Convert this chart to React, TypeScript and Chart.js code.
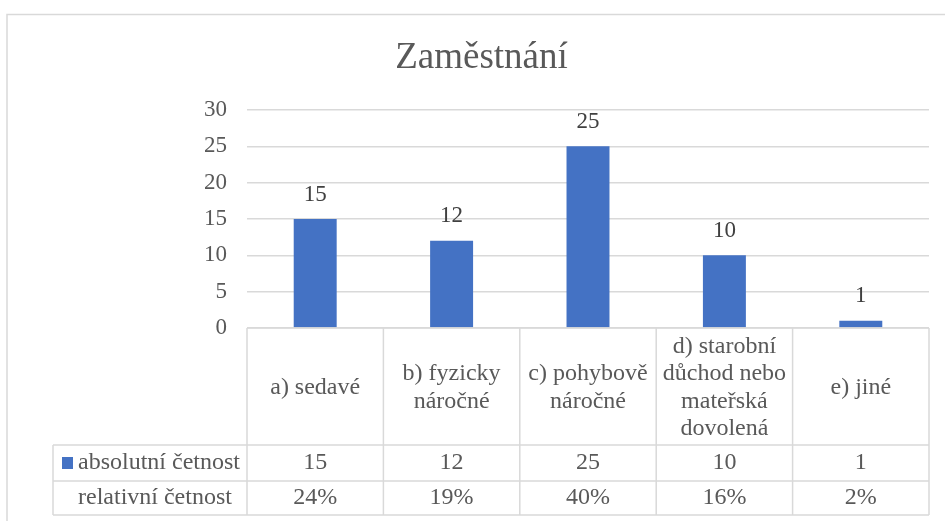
import React, { useEffect, useRef } from "react";
import { Chart, registerables } from "chart.js";

Chart.register(...registerables);

const TITLE = "Zaměstnání";
const categories: string[][] = [
  ["a) sedavé"],
  ["b) fyzicky", "náročné"],
  ["c) pohybově", "náročné"],
  ["d) starobní", "důchod nebo", "mateřská", "dovolená"],
  ["e) jiné"],
];
const absolutniCetnost = [15, 12, 25, 10, 1];
const relativniCetnost = ["24%", "19%", "40%", "16%", "2%"];
const seriesNames = ["absolutní četnost", "relativní četnost"];
const yMin = 0;
const yMax = 30;
const yStep = 5;

const FONT = "'Liberation Serif', 'Times New Roman', serif";
const TEXT = "#595959";
const LABEL = "#404040";
const GRID = "#d9d9d9";
const BAR = "#4472c4";

const excelPlugin = {
  id: "excelTable",
  beforeDraw(chart: any) {
    const ctx = chart.ctx;
    ctx.save();
    ctx.fillStyle = "#ffffff";
    ctx.fillRect(0, 0, chart.width, chart.height);
    ctx.strokeStyle = GRID;
    ctx.lineWidth = 1.5;
    ctx.strokeRect(7, 14.5, 2000, 2000);
    ctx.fillStyle = TEXT;
    ctx.font = `37px ${FONT}`;
    ctx.textAlign = "center";
    ctx.textBaseline = "alphabetic";
    ctx.fillText(TITLE, 481.5, 68);
    ctx.restore();
  },
  afterDatasetsDraw(chart: any) {
    const ctx = chart.ctx;
    const meta = chart.getDatasetMeta(0);
    ctx.save();
    ctx.fillStyle = LABEL;
    ctx.font = `23px ${FONT}`;
    ctx.textAlign = "center";
    ctx.textBaseline = "bottom";
    meta.data.forEach((bar: any, i: number) => {
      ctx.fillText(String(absolutniCetnost[i]), bar.x, bar.y - 13);
    });
    ctx.restore();
  },
  afterDraw(chart: any) {
    const ctx = chart.ctx;
    const { left, right, bottom } = chart.chartArea;
    const xs = chart.scales.x;
    const n = categories.length;
    const step = xs.getPixelForValue(1) - xs.getPixelForValue(0);
    const edges: number[] = [];
    for (let i = 0; i <= n; i++) edges.push(xs.getPixelForValue(i) - step / 2);
    const headerBottom = bottom + 117;
    const row2Bottom = headerBottom + 36;
    const row3Bottom = row2Bottom + 34;
    const labelLeft = 53;

    ctx.save();
    ctx.strokeStyle = GRID;
    ctx.lineWidth = 1.5;
    ctx.beginPath();
    ctx.moveTo(left, bottom);
    ctx.lineTo(right, bottom);
    [headerBottom, row2Bottom, row3Bottom].forEach((y) => {
      ctx.moveTo(labelLeft, y);
      ctx.lineTo(right, y);
    });
    edges.forEach((x) => {
      ctx.moveTo(x, bottom);
      ctx.lineTo(x, row3Bottom);
    });
    ctx.moveTo(labelLeft, headerBottom);
    ctx.lineTo(labelLeft, row3Bottom);
    ctx.stroke();

    ctx.fillStyle = TEXT;
    ctx.font = `24px ${FONT}`;
    ctx.textAlign = "center";
    ctx.textBaseline = "middle";
    const lh = 27.5;
    const hc = (bottom + headerBottom) / 2;
    const r2c = (headerBottom + row2Bottom) / 2;
    const r3c = (row2Bottom + row3Bottom) / 2;
    categories.forEach((lines, i) => {
      const cx = xs.getPixelForValue(i);
      const y0 = hc - ((lines.length - 1) * lh) / 2 + 1;
      lines.forEach((t, j) => ctx.fillText(t, cx, y0 + j * lh));
      ctx.fillText(String(absolutniCetnost[i]), cx, r2c);
      ctx.fillText(relativniCetnost[i], cx, r3c);
    });

    ctx.textAlign = "left";
    ctx.fillText(seriesNames[0], 78, r2c);
    ctx.fillText(seriesNames[1], 78, r3c);
    ctx.fillStyle = BAR;
    ctx.fillRect(62, r2c - 6, 11, 12);
    ctx.restore();
  },
};

export default function App() {
  const ref = useRef<HTMLCanvasElement>(null);
  useEffect(() => {
    if (!ref.current) return;
    const chart = new Chart(ref.current, {
      type: "bar",
      data: {
        labels: categories.map((c) => c.join(" ")),
        datasets: [
          {
            label: seriesNames[0],
            data: absolutniCetnost,
            backgroundColor: BAR,
            categoryPercentage: 1,
            barPercentage: 0.315,
          },
        ],
      },
      options: {
        responsive: false,
        animation: false,
        devicePixelRatio: 1,
        layout: { padding: { left: 0, right: 16, top: 110, bottom: 193 } },
        plugins: {
          legend: { display: false },
          title: { display: false },
          tooltip: { enabled: false },
        },
        scales: {
          x: { display: false, offset: true },
          y: {
            min: yMin,
            max: yMax,
            afterFit: (scale: any) => {
              scale.width = 247;
            },
            ticks: {
              stepSize: yStep,
              color: TEXT,
              font: { family: FONT, size: 23 },
              padding: 20,
            },
            grid: { color: GRID, lineWidth: 1.5, drawTicks: false },
            border: { display: false },
          },
        },
      },
      plugins: [excelPlugin],
    });
    return () => chart.destroy();
  }, []);
  return (
    <div style={{ position: "fixed", left: 0, top: 0, width: 945, height: 521 }}>
      <canvas ref={ref} width={945} height={521} style={{ display: "block", width: 945, height: 521 }} />
    </div>
  );
}
